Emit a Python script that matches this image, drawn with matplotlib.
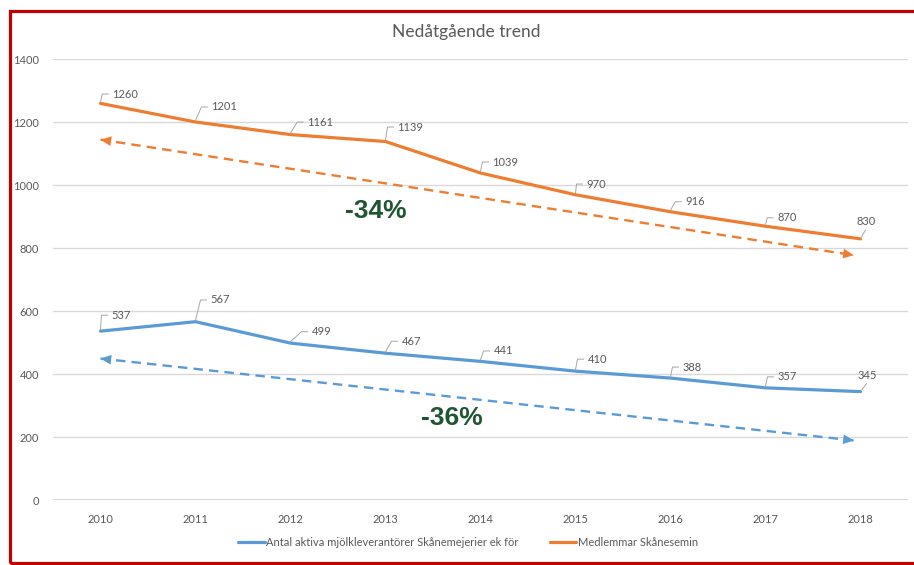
import matplotlib
matplotlib.use("Agg")
import matplotlib.pyplot as plt
from matplotlib.patches import Rectangle
import numpy as np

# data
years = [2010, 2011, 2012, 2013, 2014, 2015, 2016, 2017, 2018]
leverantorer = [537, 567, 499, 467, 441, 410, 388, 357, 345]
medlemmar = [1260, 1201, 1161, 1139, 1039, 970, 916, 870, 830]
trend_x = [2010, 2017.93]
trend_lev = [450, 190]
trend_med = [1145, 778]
pct_lev = "-36%"
pct_med = "-34%"
title = "Nedåtgående trend"
label_lev = "Antal aktiva mjölkleverantörer Skånemejerier ek för"
label_med = "Medlemmar Skånesemin"

# label offsets in pixels (text left edge, up), last point is centred
off_lev = [(11, 16), (15, 21.7), (21, 11.4), (16, 12), (13, 10.4), (12, 12), (12, 11), (12, 11), (7, 16)]
off_med = [(11.7, 9.4), (16, 15), (16.7, 12.5), (12, 14.5), (12, 11), (11, 10.7), (14.7, 10), (11.7, 8.5), (6, 17)]

BLUE = "#5b9bd5"
ORANGE = "#ed7d31"
GREY = "#595959"
GREEN = "#1f5632"
FONT = "Lato"
FS = 8

plt.rcParams["font.family"] = [FONT, "DejaVu Sans"]

W, H = 914, 565
fig = plt.figure(figsize=(W / 100, H / 100), dpi=100)
ax = fig.add_axes([53 / W, 1 - 500.3 / H, (908 - 53) / W, 441 / H])

ax.set_xlim(2009.5, 2018.5)
ax.set_ylim(0, 1400)
ax.set_yticks(range(0, 1401, 200))
ax.set_xticks(years)
for s in ax.spines.values():
    s.set_visible(False)
ax.grid(axis="y", color="#d9d9d9", lw=1.0)
ax.axhline(0, color="#d0d0d0", lw=1.2, zorder=1)
ax.set_axisbelow(True)
ax.tick_params(length=0, labelsize=FS, labelcolor=GREY)
ax.tick_params(axis="y", pad=10)
ax.tick_params(axis="x", pad=10)

ax.plot(years, leverantorer, color=BLUE, lw=2.3, solid_capstyle="round", label=label_lev, zorder=3)
ax.plot(years, medlemmar, color=ORANGE, lw=2.3, solid_capstyle="round", label=label_med, zorder=3)


def trend(ys, color):
    ax.plot(trend_x, ys, color=color, lw=1.7, dashes=(4, 2.6), zorder=2)
    x0, x1 = trend_x
    y0, y1 = ys
    for (xa, ya), (xb, yb) in [((x0, y0), (x1, y1)), ((x1, y1), (x0, y0))]:
        # tiny solid arrow head at each end
        xt = xa + (xb - xa) * 0.012
        yt = ya + (yb - ya) * 0.012
        ax.annotate("", xy=(xa, ya), xytext=(xt, yt),
                    arrowprops=dict(arrowstyle="-|>,head_length=0.55,head_width=0.25",
                                    color=color, lw=0, shrinkA=0, shrinkB=0,
                                    mutation_scale=14), zorder=3)


trend(trend_lev, BLUE)
trend(trend_med, ORANGE)


def labels(vals, offs):
    n = len(vals)
    for i, (x, v) in enumerate(zip(years, vals)):
        dx, dy = offs[i]
        if i == n - 1:
            ax.annotate(str(v), (x, v), xytext=(dx, dy), textcoords="offset pixels",
                        ha="center", va="center", fontsize=FS, color=GREY)
            ax.annotate("", (x, v), xytext=(dx - 1, dy - 8), textcoords="offset pixels",
                        arrowprops=dict(arrowstyle="-", color="#a6a6a6", lw=0.7,
                                        shrinkA=0, shrinkB=1.5))
        else:
            ax.annotate(str(v), (x, v), xytext=(dx, dy), textcoords="offset pixels",
                        ha="left", va="center", fontsize=FS, color=GREY)
            # leader: point -> corner -> short horizontal
            trans = ax.transData
            px, py = trans.transform((x, v))
            pts = np.array([[px, py + 1.5], [px + dx - 10, py + dy], [px + dx - 4, py + dy]])
            dpts = trans.inverted().transform(pts)
            ax.plot(dpts[:, 0], dpts[:, 1], color="#a6a6a6", lw=0.7, zorder=4)


labels(leverantorer, off_lev)
labels(medlemmar, off_med)

fig.text(376 / W, 1 - 211 / H, pct_med, ha="center", va="center", fontsize=19,
         fontweight="bold", color=GREEN, family=["Liberation Sans", "DejaVu Sans"])
fig.text(452 / W, 1 - 418 / H, pct_lev, ha="center", va="center", fontsize=19,
         fontweight="bold", color=GREEN, family=["Liberation Sans", "DejaVu Sans"])

fig.text(466 / W, 1 - 32 / H, title, ha="center", va="center", fontsize=12.5, color=GREY)

leg = fig.legend(loc="center", bbox_to_anchor=(468 / W, 1 - 542 / H), ncol=2, frameon=False,
                 fontsize=FS, handlelength=2.4, handletextpad=0.15, columnspacing=2.8)
for t in leg.get_texts():
    t.set_color(GREY)

fig.patches.append(Rectangle((9.8 / W, 1 - 562.8 / H), 1.0, (562.8 - 10.8) / H,
                             transform=fig.transFigure, fill=False, ec="#c00000", lw=2.3))

fig.savefig("out.png", dpi=100)
